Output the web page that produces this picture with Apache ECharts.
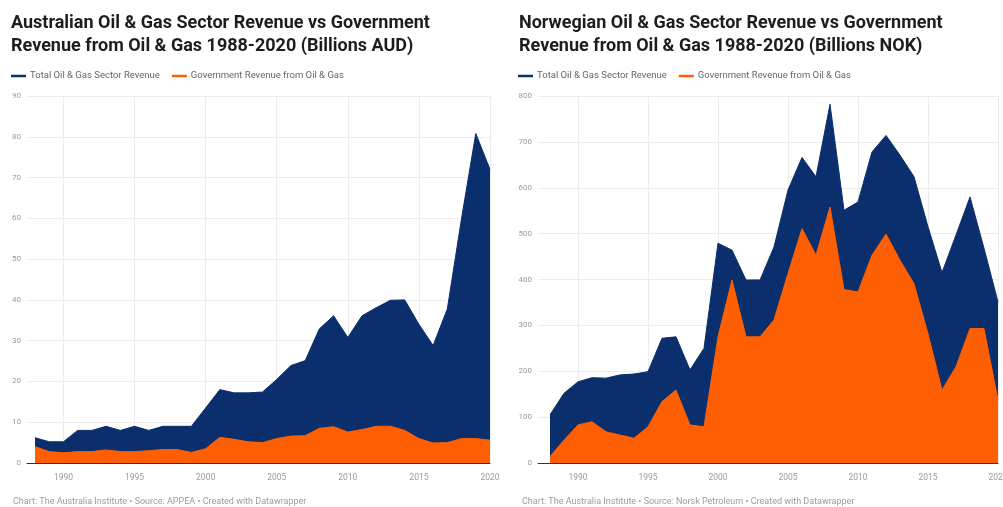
<!DOCTYPE html>
<html>
<head>
<meta charset="utf-8">
<script src="https://cdn.jsdelivr.net/npm/echarts@6/dist/echarts.min.js"></script>
<style>
html,body{margin:0;padding:0;background:#fff;}
#c{width:1003px;height:507px;}
</style>
</head>
<body>
<div id="c"></div>
<script>
const years = ['1988','1989','1990','1991','1992','1993','1994','1995','1996','1997','1998','1999','2000','2001','2002','2003','2004','2005','2006','2007','2008','2009','2010','2011','2012','2013','2014','2015','2016','2017','2018','2019','2020'];

// Australia (Billions AUD)
const ausTotal = [6.2, 5.2, 5.2, 8.0, 8.0, 9.0, 8.0, 9.0, 8.0, 9.0, 9.0, 9.0, 13.5, 18.0, 17.2, 17.2, 17.4, 20.5, 23.9, 25.1, 32.9, 36.1, 30.8, 36.1, 38.1, 39.9, 40.0, 34.0, 28.8, 37.8, 60.0, 80.8, 72.0];
const ausGov   = [4.0, 2.8, 2.5, 2.8, 2.8, 3.2, 2.8, 2.8, 3.0, 3.3, 3.3, 2.6, 3.5, 6.3, 5.8, 5.2, 5.0, 6.0, 6.6, 6.7, 8.5, 8.9, 7.6, 8.2, 9.0, 9.0, 8.0, 6.0, 4.9, 5.0, 6.0, 6.0, 5.6];

// Norway (Billions NOK)
const norTotal = [105, 152, 177, 186, 185, 192, 194, 199, 272, 275, 203, 250, 479, 464, 399, 399, 471, 595, 666, 624, 782, 551, 569, 678, 714, 671, 624, 515, 415, 497, 580, 468, 351];
const norGov   = [14, 50, 83, 90, 68, 61, 54, 79, 134, 159, 83, 79, 275, 399, 275, 275, 312, 413, 511, 453, 558, 378, 373, 453, 499, 442, 391, 282, 159, 210, 293, 293, 137];

const ausTitle = 'Australian Oil & Gas Sector Revenue vs Government\nRevenue from Oil & Gas 1988-2020 (Billions AUD)';
const norTitle = 'Norwegian Oil & Gas Sector Revenue vs Government\nRevenue from Oil & Gas 1988-2020 (Billions NOK)';
const ausNote = 'Chart: The Australia Institute \u2022 Source: APPEA \u2022 Created with Datawrapper';
const norNote = 'Chart: The Australia Institute \u2022 Source: Norsk Petroleum \u2022 Created with Datawrapper';
const nameTotal = 'Total Oil & Gas Sector Revenue';
const nameGov = 'Government Revenue from Oil & Gas';

const NAVY = '#0b2e6c';
const ORANGE = '#ff5f00';
const FONT = 'Roboto, "Noto Sans", sans-serif';

const chart = echarts.init(document.getElementById('c'), null, {renderer: 'canvas'});

function makeGrid(left, right) { return {left: left, right: right, top: 96, bottom: 44, containLabel: false, outerBoundsMode: 'none'}; }

function bgX(gi) {
  return {
    gridIndex: gi, type: 'value', min: 0, max: 1,
    axisLine: {show: true, onZero: false, lineStyle: {color: '#333', width: 1}},
    axisTick: {show: false}, axisLabel: {show: false}, splitLine: {show: false}
  };
}
function dataX(gi) {
  return {
    gridIndex: gi, type: 'category', data: years, boundaryGap: false,
    axisLine: {show: false}, axisTick: {show: false},
    axisLabel: {
      interval: function (i, v) { return (+v) % 5 === 0; },
      color: '#9a9a9a', fontSize: 8.5, fontFamily: FONT, margin: 10,
      hideOverlap: false
    },
    splitLine: {
      show: true,
      interval: function (i, v) { return (+v) % 5 === 0; },
      lineStyle: {color: '#ececec', width: 1}
    }
  };
}
function bgY(gi, max, interval) {
  return {
    gridIndex: gi, type: 'value', min: 0, max: max, interval: interval,
    axisLine: {show: false}, axisTick: {show: false},
    axisLabel: {color: '#9a9a9a', fontSize: 8, fontFamily: FONT, margin: 6},
    splitLine: {show: true, lineStyle: {color: '#ececec', width: 1}}
  };
}
function dataY(gi, max, interval) {
  return {gridIndex: gi, type: 'value', min: 0, max: max, interval: interval, show: false, splitLine: {show: false}};
}
function area(name, data, color, axis) {
  return {
    name: name, type: 'line', data: data, xAxisIndex: axis, yAxisIndex: axis,
    showSymbol: false, symbol: 'none', smooth: false,
    lineStyle: {color: color, width: 1},
    itemStyle: {color: color},
    areaStyle: {color: color, opacity: 1},
    animation: false
  };
}

const titleStyle = {fontSize: 18, fontWeight: 'bold', color: '#1d1d1d', fontFamily: FONT, lineHeight: 23};
const noteStyle = {fontSize: 9, fontWeight: 'normal', color: '#9c9c9c', fontFamily: FONT};
const legendText = {fontSize: 9.5, color: '#666', fontFamily: FONT, padding: [0, 0, 0, -1]};

chart.setOption({
  backgroundColor: '#ffffff',
  animation: false,
  title: [
    {text: ausTitle, left: 6, top: 7, textStyle: titleStyle},
    {text: norTitle, left: 514, top: 7, textStyle: titleStyle},
    {text: ausNote, left: 8, top: 492, textStyle: noteStyle},
    {text: norNote, left: 517, top: 492, textStyle: noteStyle}
  ],
  legend: [
    {left: 6, top: 66, icon: 'rect', itemWidth: 15, itemHeight: 2.5, itemGap: 12,
     textStyle: legendText,
     data: [{name: nameTotal, itemStyle: {color: NAVY}}, {name: nameGov, itemStyle: {color: ORANGE}}]},
    {left: 513, top: 66, icon: 'rect', itemWidth: 15, itemHeight: 2.5, itemGap: 12,
     textStyle: legendText,
     data: [{name: nameTotal, itemStyle: {color: NAVY}}, {name: nameGov, itemStyle: {color: ORANGE}}]}
  ],
  grid: [
    makeGrid(27, 513),
    makeGrid(35, 513),
    makeGrid(538, 5),
    makeGrid(550, 5)
  ],
  xAxis: [bgX(0), dataX(1), bgX(2), dataX(3)],
  yAxis: [bgY(0, 90, 10), dataY(1, 90, 10), bgY(2, 800, 100), dataY(3, 800, 100)],
  series: [
    area(nameTotal, ausTotal, NAVY, 1),
    area(nameGov, ausGov, ORANGE, 1),
    area(nameTotal, norTotal, NAVY, 3),
    area(nameGov, norGov, ORANGE, 3)
  ]
});
</script>
</body>
</html>
